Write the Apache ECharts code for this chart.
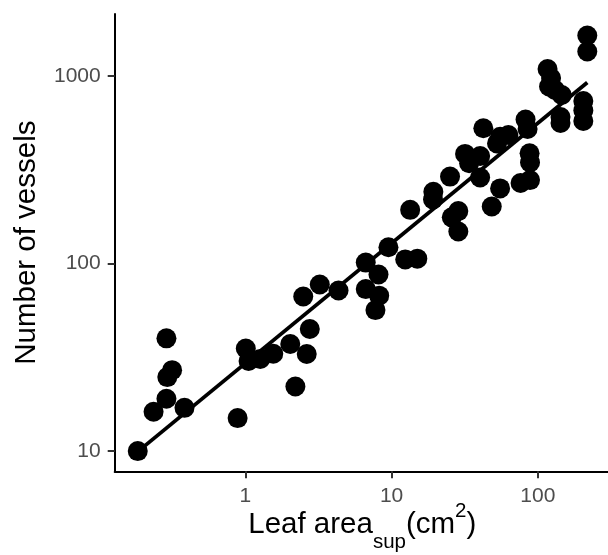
<!DOCTYPE html>
<html>
<head>
<meta charset="utf-8">
<style>
html,body{margin:0;padding:0;background:#fff;}
#chart{width:608px;height:555px;}
</style>
<script src="https://cdn.jsdelivr.net/npm/echarts@6/dist/echarts.min.js"></script>
</head>
<body>
<div id="chart"></div>
<script>
// Leaf area (cm^2) per observation
var leafArea = [0.184,0.236,0.289,0.316,0.293,0.289,0.384,0.886,1.008,1.053,1.266,1.553,2.03,2.20,2.49,2.63,2.76,3.23,4.34,6.66,6.66,8.14,8.23,7.76,9.52,12.4,15.0,13.4,19.3,19.2,25.1,28.6,25.8,28.6,31.8,40.3,33.9,40.3,42.4,55.2,62.9,52.6,48.4,55.2,76.2,88.4,87.8,88.4,82.4,85.1,116.5,123.1,119.3,131.1,145.7,142.9,142.9,204.6,204.6,204.6,217.8,217.8];
// Number of vessels per observation
var vessels = [10.0,16.2,39.9,27.0,24.8,19.0,17.0,15.0,35.2,30.2,31.0,33.0,37.2,22.1,66.6,32.9,44.7,77.2,71.7,101,73.0,87.3,67.3,56.4,122,105,106,193,241,219,290,190,176,148,383,373,342,287,525,473,483,436,201,251,268,278,386,345,584,520,1086,972,876,839,789,603,560,733,653,574,1637,1346];
// fitted regression line endpoints
var fitX = [0.184, 217.8];
var fitY = [9.94, 920];
// tick labels
var xTicks = [1, 10, 100];
var yTicks = [10, 100, 1000];
// x-axis title pieces: [text, role]
var xTitleParts = [['Leaf area','n'],['sup','sub'],['(cm','n'],['2','sup'],[')','n']];

var pts = leafArea.map(function(x, i){ return [x, vessels[i]]; });
var fit = fitX.map(function(x, i){ return [x, fitY[i]]; });

var FAM = '"Liberation Sans", Arial, sans-serif';
var MAIN = 29.5, SMALL = 20.5;

// build x-axis title (with subscript / superscript) as text pieces
var ctx = document.createElement('canvas').getContext('2d');
function w(t, s){ ctx.font = s + 'px ' + FAM; return ctx.measureText(t).width; }
var baseMain = 535, baseSub = 549, baseSup = 518.3, centerX = 362.3;
var widths = xTitleParts.map(function(p){ return w(p[0], p[1]==='n' ? MAIN : SMALL); });
var total = widths.reduce(function(a,b){return a+b;}, 0);
var cx = centerX - total/2;
var titleEls = xTitleParts.map(function(p, i){
  var s = p[1]==='n' ? MAIN : SMALL;
  var base = p[1]==='n' ? baseMain : (p[1]==='sub' ? baseSub : baseSup);
  var el = {type:'text', x: cx, y: base - 0.3465*s, silent:true,
    style:{text:p[0], fontSize:s, fontFamily:FAM, fill:'#000', textAlign:'left', textVerticalAlign:'middle', verticalAlign:'middle'}};
  cx += widths[i];
  return el;
});

var chart = echarts.init(document.getElementById('chart'), null, {renderer:'canvas'});
chart.setOption({
  animation: false,
  backgroundColor: '#ffffff',
  grid: {left: 114.7, right: 0, top: 14, bottom: 83.7, containLabel: false, outerBoundsMode: 'none'},
  xAxis: {
    type: 'log', logBase: 10, min: 0.128, max: 301.7,
    splitLine: {show: false},
    axisLine: {show: true, lineStyle: {color: '#000', width: 2}},
    axisTick: {show: true, length: 7, lineStyle: {color: '#333', width: 2}, customValues: xTicks},
    axisLabel: {show: true, margin: 14, color: '#4d4d4d', fontSize: 21, fontFamily: FAM, customValues: xTicks,
      formatter: function(v){ return String(Math.round(v)); }},
    minorTick: {show: false}
  },
  yAxis: {
    type: 'log', logBase: 10, min: 7.806, max: 2132,
    splitLine: {show: false},
    axisLine: {show: true, lineStyle: {color: '#000', width: 2}},
    axisTick: {show: true, length: 7, lineStyle: {color: '#333', width: 2}, customValues: yTicks},
    axisLabel: {show: true, margin: 14, color: '#4d4d4d', fontSize: 21, fontFamily: FAM, customValues: yTicks,
      formatter: function(v){ return String(Math.round(v)); }},
    minorTick: {show: false},
    name: 'Number of vessels',
    nameLocation: 'middle', nameGap: 73,
    nameTextStyle: {color: '#000', fontSize: MAIN, fontFamily: FAM}
  },
  graphic: titleEls,
  series: [
    {
      type: 'scatter', data: pts, symbol: 'circle', symbolSize: 20,
      itemStyle: {color: '#000', opacity: 1}, z: 2
    },
    {
      type: 'line', data: fit, symbol: 'none', showSymbol: false,
      lineStyle: {color: '#000', width: 3.8}, z: 3
    }
  ]
});
</script>
</body>
</html>
